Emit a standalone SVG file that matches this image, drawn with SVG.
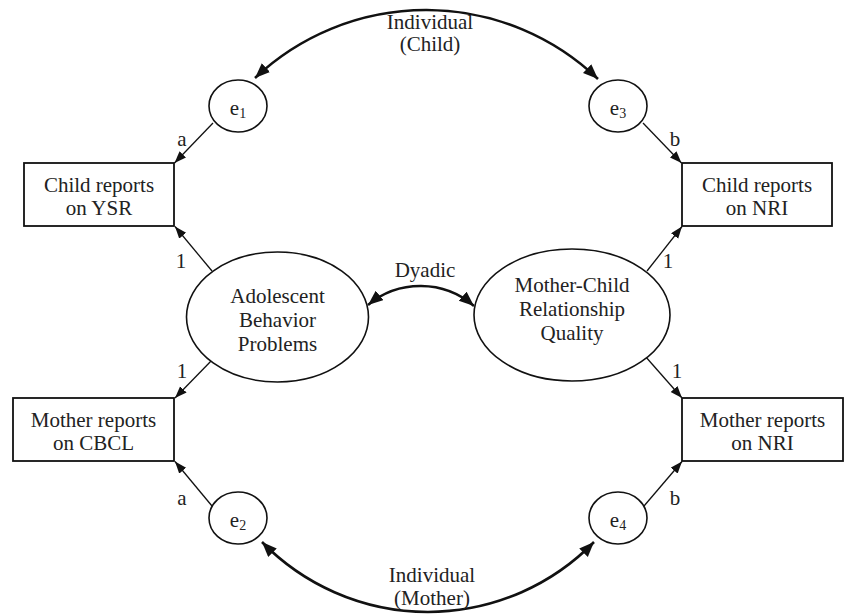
<svg xmlns="http://www.w3.org/2000/svg" width="845" height="615" viewBox="0 0 845 615">
<style>
text{font-family:"Liberation Serif","Times New Roman",serif;font-size:21px;fill:#222;text-anchor:middle}
.sub{font-size:14px}
.box{fill:#fff;stroke:#111;stroke-width:1.8}
.ell{fill:#fff;stroke:#111;stroke-width:1.6}
.thin{fill:none;stroke:#111;stroke-width:1.3;marker-end:url(#ah)}
.thick{fill:none;stroke:#111;stroke-width:2.6;marker-start:url(#ahb);marker-end:url(#ahb)}
</style>
<defs>
<marker id="ah" markerUnits="userSpaceOnUse" markerWidth="13" markerHeight="10" refX="12" refY="4.5" orient="auto"><path d="M0,0 L12,4.5 L0,9 z" fill="#111"/></marker>
<marker id="ahb" markerUnits="userSpaceOnUse" markerWidth="16" markerHeight="13" refX="15" refY="6" orient="auto-start-reverse"><path d="M0,0 L15,6 L0,12 z" fill="#111"/></marker>
</defs>
<rect width="845" height="615" fill="#fff"/>
<g id="connectors">
<path class="thick" d="M255,78 A249,249 0 0 1 598,79"/>
<path class="thick" d="M262,542 A232,232 0 0 0 594,542"/>
<path class="thick" d="M368,305 A82,82 0 0 1 474,306"/>
<line class="thin" x1="213" y1="123" x2="174.5" y2="163"/>
<line class="thin" x1="643" y1="123" x2="681.5" y2="163"/>
<line class="thin" x1="212" y1="271" x2="175" y2="226.5"/>
<line class="thin" x1="213" y1="359" x2="175" y2="398"/>
<line class="thin" x1="647" y1="271" x2="682" y2="226.5"/>
<line class="thin" x1="645" y1="356" x2="682" y2="398"/>
<line class="thin" x1="212" y1="506" x2="175" y2="461.5"/>
<line class="thin" x1="644" y1="506" x2="682" y2="461.5"/>
<text x="182" y="146">a</text>
<text x="675" y="146">b</text>
<text x="181" y="268">1</text>
<text x="668" y="268">1</text>
<text x="182" y="378">1</text>
<text x="677" y="378">1</text>
<text x="182" y="505">a</text>
<text x="675" y="505">b</text>
<text x="425" y="277">Dyadic</text>
<text x="430" y="29">Individual</text>
<text x="430" y="51">(Child)</text>
<text x="432" y="582">Individual</text>
<text x="432" y="605">(Mother)</text>
</g>
<g id="ysr"><rect class="box" x="24" y="163" width="150" height="63"/><text x="99" y="192">Child reports</text><text x="99" y="215">on YSR</text></g>
<g id="nri-child"><rect class="box" x="682" y="163" width="150" height="63"/><text x="757" y="192">Child reports</text><text x="757" y="215">on NRI</text></g>
<g id="cbcl"><rect class="box" x="13" y="398" width="161" height="63"/><text x="93.5" y="427">Mother reports</text><text x="93.5" y="450">on CBCL</text></g>
<g id="nri-mother"><rect class="box" x="682" y="398" width="161" height="63"/><text x="762.5" y="427">Mother reports</text><text x="762.5" y="450">on NRI</text></g>
<g id="e1"><ellipse class="ell" cx="238" cy="106" rx="29" ry="26"/><text x="238" y="115">e<tspan class="sub" dy="3">1</tspan></text></g>
<g id="e3"><ellipse class="ell" cx="618" cy="106" rx="29" ry="26"/><text x="618" y="115">e<tspan class="sub" dy="3">3</tspan></text></g>
<g id="e2"><ellipse class="ell" cx="238" cy="518" rx="29" ry="26"/><text x="238" y="527">e<tspan class="sub" dy="3">2</tspan></text></g>
<g id="e4"><ellipse class="ell" cx="618" cy="518" rx="29" ry="26"/><text x="618" y="527">e<tspan class="sub" dy="3">4</tspan></text></g>
<g id="abp"><ellipse class="ell" cx="277.5" cy="317" rx="91" ry="65"/><text x="277.5" y="303">Adolescent</text><text x="277.5" y="327">Behavior</text><text x="277.5" y="351">Problems</text></g>
<g id="mcrq"><ellipse class="ell" cx="572" cy="315" rx="98" ry="66"/><text x="572" y="292">Mother-Child</text><text x="572" y="316">Relationship</text><text x="572" y="340">Quality</text></g>
</svg>
